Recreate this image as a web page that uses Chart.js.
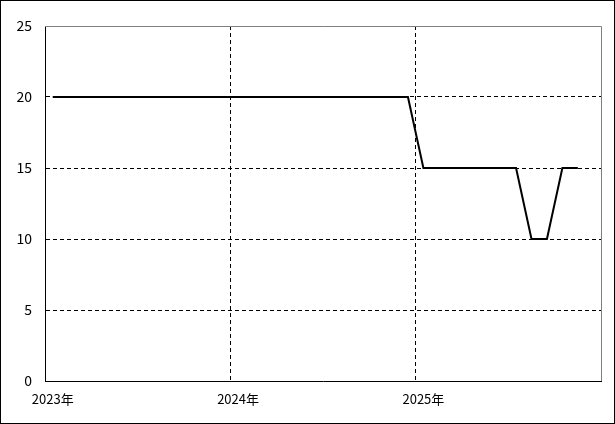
<!DOCTYPE html>
<html>
<head>
<meta charset="utf-8">
<script src="https://cdn.jsdelivr.net/npm/chart.js@4"></script>
<style>
  html, body { margin: 0; padding: 0; background: #fff; }
  #wrap { width: 615px; height: 424px; position: relative; }
</style>
</head>
<body>
<div id="wrap"><canvas id="c" width="615" height="424"></canvas></div>
<script>
// =================== DATA ===================
const years = [2023, 2024, 2025];
const monthNames = ["1月", "2月", "3月", "4月", "5月", "6月", "7月", "8月", "9月", "10月", "11月", "12月"];
const values2023 = [20, 20, 20, 20, 20, 20, 20, 20, 20, 20, 20, 20];
const values2024 = [20, 20, 20, 20, 20, 20, 20, 20, 20, 20, 20, 20];
const values2025 = [15, 15, 15, 15, 15, 15, 15, 10, 10, 15, 15, null];
const yTicks = [0, 5, 10, 15, 20, 25];

// categories: one per month
const categories = [];
years.forEach((y) => monthNames.forEach((m) => categories.push(y + "年" + m)));
const values = [...values2023, ...values2024, ...values2025];
const N = categories.length;

const FONT = '"Noto Sans CJK JP", "DejaVu Sans", sans-serif';

// frame: outer canvas border + gray top/right of plot area
const framePlugin = {
  id: "frame",
  beforeDraw(chart) {
    const c = chart.ctx;
    c.save();
    c.fillStyle = "#fff";
    c.fillRect(0, 0, chart.width, chart.height);
    c.restore();
  },
  afterDraw(chart) {
    const c = chart.ctx;
    const a = chart.chartArea;
    c.save();
    c.lineWidth = 1;
    c.strokeStyle = "#808080";
    c.beginPath();
    c.moveTo(a.left, Math.round(a.top) + 0.5);
    c.lineTo(a.right + 0.5, Math.round(a.top) + 0.5);
    c.lineTo(a.right + 0.5, a.bottom);
    c.stroke();
    c.strokeStyle = "#000";
    c.strokeRect(0.5, 0.5, chart.width - 1, chart.height - 1);
    c.restore();
  },
};

new Chart(document.getElementById("c"), {
  type: "line",
  data: {
    labels: categories,
    datasets: [
      {
        data: values,
        borderColor: "#000",
        borderWidth: 2,
        pointRadius: 0,
        tension: 0,
        fill: false,
      },
    ],
  },
  options: {
    responsive: false,
    animation: false,
    layout: { padding: { top: 26, right: 14, left: 0, bottom: 0 } },
    plugins: { legend: { display: false }, tooltip: { enabled: false } },
    scales: {
      x: {
        type: "category",
        offset: true,
        grid: {
          offset: true,
          drawTicks: false,
          lineWidth: 1,
          color: (ctx) =>
            ctx.index > 0 && ctx.index < N && ctx.index % 12 === 0 ? "#000" : "rgba(0,0,0,0)",
        },
        border: {
          color: "#000",
          width: 1,
          dash: (ctx) => (ctx.type === "tick" ? [4, 3] : []),
        },
        ticks: {
          autoSkip: false,
          maxRotation: 0,
          padding: 10,
          color: "#000",
          font: { family: FONT, size: 13 },
          callback: (v, i) => (i % 12 === 0 ? years[i / 12] + "年" : ""),
        },
        afterFit: (s) => { s.height = 43; },
      },
      y: {
        min: 0,
        max: 25,
        afterBuildTicks: (s) => { s.ticks = yTicks.map((v) => ({ value: v })); },
        grid: {
          drawTicks: false,
          lineWidth: 1,
          color: (ctx) =>
            ctx.tick && ctx.tick.value > 0 && ctx.tick.value < 25 ? "#000" : "rgba(0,0,0,0)",
        },
        border: {
          color: "#000",
          width: 1,
          dash: (ctx) => (ctx.type === "tick" ? [4, 3] : []),
        },
        ticks: {
          padding: 13,
          color: "#000",
          font: { family: FONT, size: 14 },
        },
        afterFit: (s) => { s.width = 45; },
      },
    },
  },
  plugins: [framePlugin],
});
</script>
</body>
</html>
